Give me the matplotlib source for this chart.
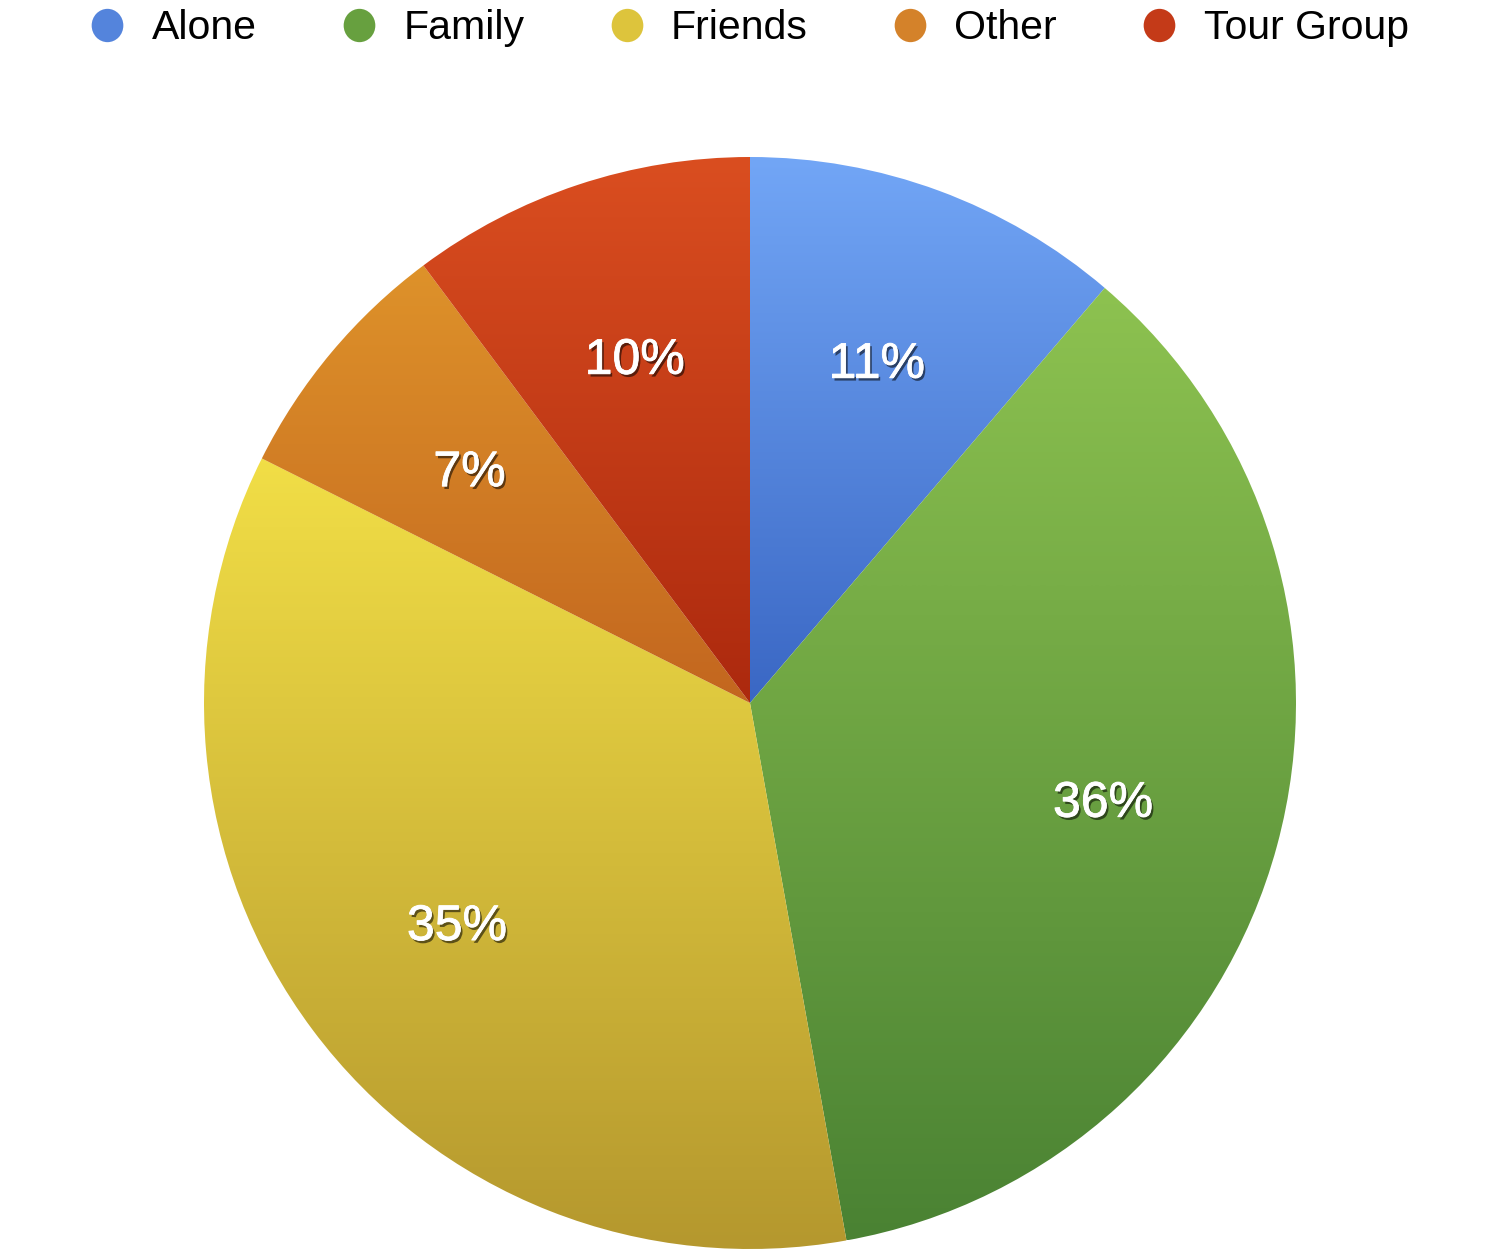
"""
Pie chart: who visitors travel with
"""

import matplotlib
matplotlib.use('Agg')
import matplotlib.pyplot as plt
import matplotlib.patheffects as pe
from matplotlib.colors import LinearSegmentedColormap
from matplotlib.lines import Line2D
from matplotlib.path import Path
from matplotlib.transforms import Affine2D
import numpy as np

plt.rcParams['font.family'] = ['Liberation Sans', 'DejaVu Sans']

categorias = ['Alone', 'Family', 'Friends', 'Other', 'Tour Group']
# fatias medidas no gráfico (rótulos arredondados: 11, 36, 35, 7, 10)
valores = [11.25, 35.9, 35.2, 7.4, 10.2]
cores_topo = ['#72a6f6', '#8dc250', '#f1de46', '#de922a', '#da4e20']
cores_base = ['#3a67c4', '#4a8233', '#b5982e', '#c3661f', '#ac290e']
cores_legenda = ['#5484dc', '#67a03f', '#ddc43c', '#d4822a', '#c43a18']

fig = plt.figure(figsize=(15, 12.5), dpi=100)
ax = fig.add_axes([0, 0, 1, 1])

raio = 546
wedges, autotextos = ax.pie(
    valores, radius=raio, startangle=90, counterclock=False,
    autopct=lambda p: f'{p:.0f}%', pctdistance=0.67,
    wedgeprops=dict(linewidth=0))[0::2]

# gradiente vertical em cada fatia
grad = np.linspace(1, 0, 256).reshape(-1, 1)
for w, c0, c1 in zip(wedges, cores_topo, cores_base):
    bb = w.get_path().get_extents(w.get_patch_transform())
    cmap = LinearSegmentedColormap.from_list('g', [c1, c0])
    img = ax.imshow(grad, cmap=cmap, extent=[bb.x0, bb.x1, bb.y0, bb.y1],
                    aspect='auto', origin='upper', interpolation='bicubic',
                    vmin=0, vmax=1, zorder=1)
    img.set_clip_path(w)
    w.set_facecolor('none')

for t in autotextos:
    x, y = t.get_position()
    t.set_position((x, y - 18))
    t.set_va('baseline')
    t.set_color('white')
    t.set_fontsize(36)
    t.set_zorder(5)
    t.set_path_effects([pe.SimplePatchShadow(offset=(1.5, -2), shadow_rgbFace='black', alpha=0.55),
                        pe.withStroke(linewidth=0.6, foreground='white')])

ax.set_xlim(-750, 750)
ax.set_ylim(-547, 703)
ax.set_aspect('equal')
ax.axis('off')

# legenda com marcadores elípticos
elipse = Path.unit_circle().transformed(Affine2D().scale(0.95, 1.0))
handles = [Line2D([], [], linestyle='none', marker=elipse, markersize=24,
                  markerfacecolor=c, markeredgewidth=0) for c in cores_legenda]
fig.legend(handles, categorias, loc='center', bbox_to_anchor=(0.4985, 1 - 28 / 1250),
           ncol=5, frameon=False, fontsize=29.5, handlelength=1.0,
           handletextpad=0.58, columnspacing=2.0, borderaxespad=0, borderpad=0)

fig.savefig('out.png', dpi=100)
plt.close()
